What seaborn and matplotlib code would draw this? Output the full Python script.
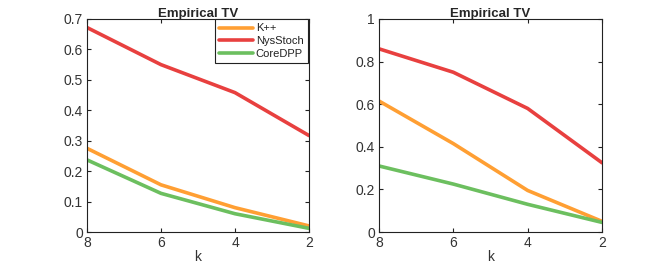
import matplotlib
matplotlib.use("Agg")
import matplotlib.pyplot as plt
import seaborn as sns
import pandas as pd

k_values = [8, 6, 4, 2]
methods = ["K++", "NysStoch", "CoreDPP"]

left_kpp = [0.275, 0.155, 0.080, 0.020]
left_nys = [0.672, 0.550, 0.458, 0.317]
left_core = [0.237, 0.127, 0.060, 0.012]

right_kpp = [0.615, 0.415, 0.195, 0.050]
right_nys = [0.860, 0.750, 0.580, 0.325]
right_core = [0.310, 0.225, 0.130, 0.045]

colors = ["#FF9F33", "#E8403F", "#6CBF5F"]

sns.set_theme(style="white")
plt.rcParams["font.family"] = ["Liberation Sans", "DejaVu Sans"]

def make_df(kpp, nys, core):
    rows = []
    for m, vals in zip(methods, [kpp, nys, core]):
        for k, v in zip(k_values, vals):
            rows.append({"k": k, "value": v, "method": m})
    return pd.DataFrame(rows)

fig = plt.figure(figsize=(6.64, 2.71), dpi=100)
ax1 = fig.add_axes([87/664, 1 - 232/271, 222/664, 213/271])
ax2 = fig.add_axes([379/664, 1 - 232/271, 223/664, 213/271])

configs = [
    (ax1, make_df(left_kpp, left_nys, left_core), (0, 0.7), [0, 0.1, 0.2, 0.3, 0.4, 0.5, 0.6, 0.7], ["0", "0.1", "0.2", "0.3", "0.4", "0.5", "0.6", "0.7"], True),
    (ax2, make_df(right_kpp, right_nys, right_core), (0, 1), [0, 0.2, 0.4, 0.6, 0.8, 1.0], ["0", "0.2", "0.4", "0.6", "0.8", "1"], False),
]

for ax, df, ylim, yticks, ylabels, show_legend in configs:
    sns.lineplot(data=df, x="k", y="value", hue="method", hue_order=methods,
                 palette=colors, linewidth=2.6, ax=ax, legend=show_legend)
    ax.set_xlim(8, 2)
    ax.set_ylim(*ylim)
    ax.set_xticks([8, 6, 4, 2])
    ax.set_xticklabels(["8", "6", "4", "2"])
    ax.set_yticks(yticks)
    ax.set_yticklabels(ylabels)
    ax.set_xlabel("k", fontsize=10, color="#333333", labelpad=0)
    ax.set_ylabel("")
    ax.set_title("Empirical TV", fontsize=9.5, fontweight="bold", pad=1.5)
    ax.tick_params(direction="in", length=3, width=0.8, top=True, right=True,
                   bottom=True, left=True, labelsize=10, colors="#222222",
                   labelcolor="#333333", pad=3)
    for s in ax.spines.values():
        s.set_color("#222222")
        s.set_linewidth(0.8)
    if show_legend:
        leg = ax.legend(loc="upper right", fontsize=8, frameon=True, fancybox=False,
                        borderaxespad=0, handlelength=3.1, handletextpad=0.2,
                        labelspacing=0.25, borderpad=0.4,
                        bbox_to_anchor=(0.995, 1.0))
        leg.get_frame().set_edgecolor("#222222")
        leg.get_frame().set_linewidth(0.8)
        leg.get_frame().set_alpha(1)
        for t in leg.get_texts():
            t.set_color("#222222")
        for line in leg.get_lines():
            line.set_linewidth(2.6)

fig.savefig("out.png", dpi=100)
